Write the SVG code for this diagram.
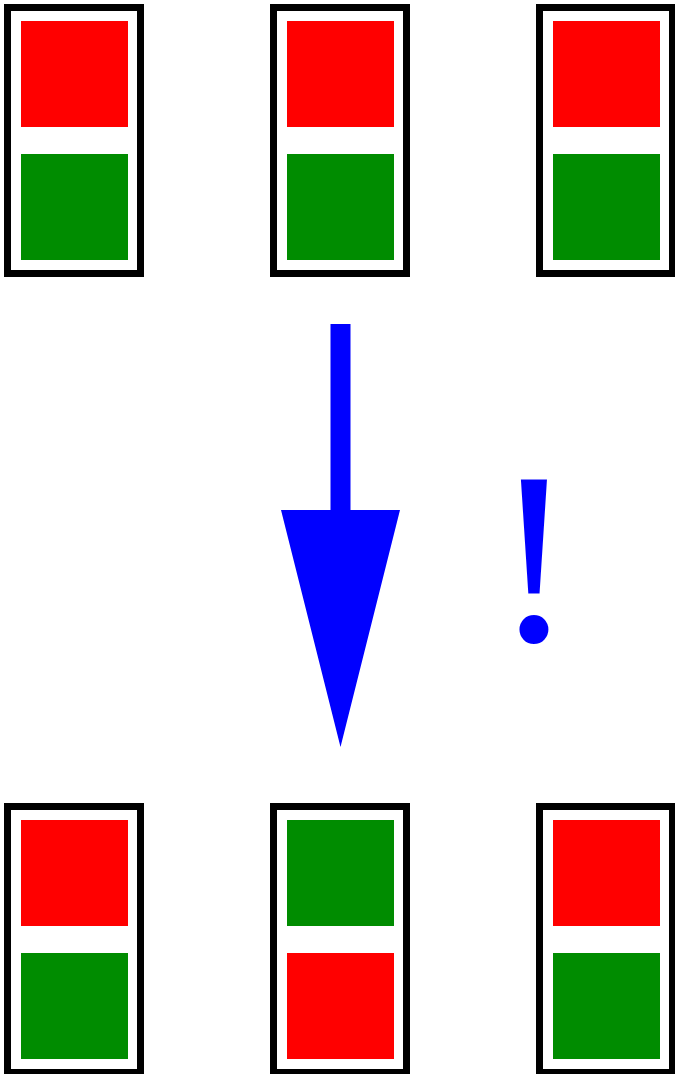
<svg xmlns="http://www.w3.org/2000/svg" width="675" height="1074" viewBox="0 0 675 1074">
<style>
.frame{fill:#fff;stroke:#000;stroke-width:7}
.red{fill:#ff0000}
.green{fill:#008c00}
.arrow{fill:#0000ff}
.bang{font-family:"Liberation Serif",serif;font-size:245px;fill:#0000ff}
</style>
<rect width="675" height="1074" fill="#fff"/>
<g id="top-left" transform="translate(0,0)">
<rect class="frame" x="7.5" y="7.5" width="133" height="266"/>
<rect class="red" x="21" y="21" width="107" height="106"/>
<rect class="green" x="21" y="154" width="107" height="106"/>
</g>
<g id="top-middle" transform="translate(266,0)">
<rect class="frame" x="7.5" y="7.5" width="133" height="266"/>
<rect class="red" x="21" y="21" width="107" height="106"/>
<rect class="green" x="21" y="154" width="107" height="106"/>
</g>
<g id="top-right" transform="translate(532,0)">
<rect class="frame" x="7.5" y="7.5" width="133" height="266"/>
<rect class="red" x="21" y="21" width="107" height="106"/>
<rect class="green" x="21" y="154" width="107" height="106"/>
</g>
<g id="bottom-left" transform="translate(0,799)">
<rect class="frame" x="7.5" y="7.5" width="133" height="266"/>
<rect class="red" x="21" y="21" width="107" height="106"/>
<rect class="green" x="21" y="154" width="107" height="106"/>
</g>
<g id="bottom-middle" transform="translate(266,799)">
<rect class="frame" x="7.5" y="7.5" width="133" height="266"/>
<rect class="green" x="21" y="21" width="107" height="106"/>
<rect class="red" x="21" y="154" width="107" height="106"/>
</g>
<g id="bottom-right" transform="translate(532,799)">
<rect class="frame" x="7.5" y="7.5" width="133" height="266"/>
<rect class="red" x="21" y="21" width="107" height="106"/>
<rect class="green" x="21" y="154" width="107" height="106"/>
</g>
<g id="connectors">
<path class="arrow" d="M330.5,324 H350.5 V510 H400 L340.5,747 L281,510 H330.5 Z"/>
</g>
<g id="label">
<text class="bang" x="534" y="641" text-anchor="middle">!</text>
</g>
</svg>
